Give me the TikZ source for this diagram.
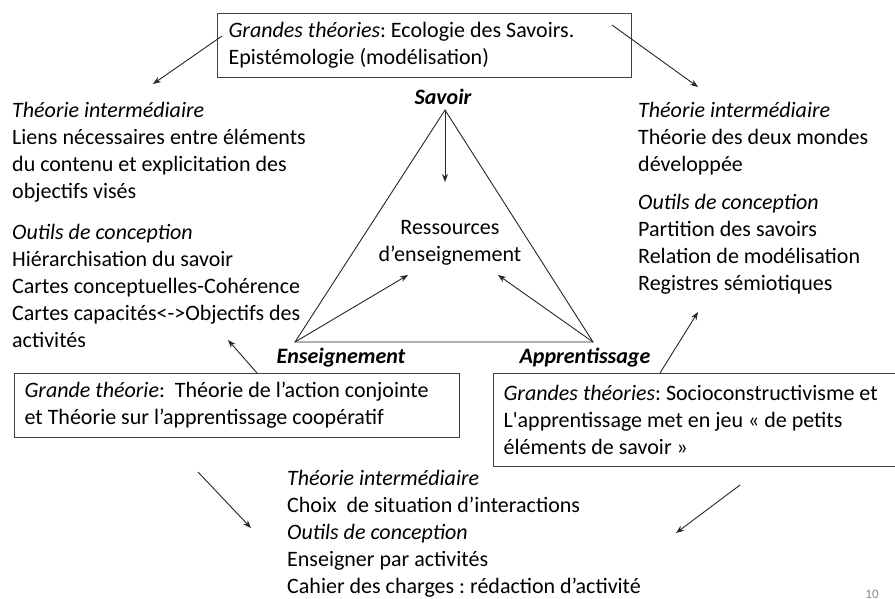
\documentclass[tikz,border=0pt]{standalone}
\usepackage{fontspec}
\setmainfont{Carlito}
\usepackage{tikz}
\usetikzlibrary{arrows.meta}
\frenchspacing

\begin{document}
\begin{tikzpicture}[x=1pt, y=-1pt, font=\fontsize{22}{27}\selectfont,
    box/.style = {draw=black!75, line width=1.2pt, anchor=north west, inner xsep=10pt, align=flush left},
    txt/.style = {anchor=base west, inner sep=0pt, align=left},
    corner/.style = {anchor=base, inner sep=0pt, font=\fontsize{22}{27}\selectfont\bfseries\itshape},
    arr/.style = {-{Stealth[length=8pt, width=6pt]}, line width=0.9pt, black!85}]

    \useasboundingbox (0,0) rectangle (895,598);
    \clip (0,0) rectangle (895,598);

    % Grand theories (boxes)
    \node[box, inner xsep=11pt, text width=392pt, minimum height=64pt] (top) at (217,13)
        {\emph{Grandes théories}: Ecologie des Savoirs.\\ Epistémologie (modélisation)};
    \node[box, text width=425pt, minimum height=64pt] (gl) at (14,373)
        {\emph{Grande théorie}:\ \ Théorie de l’action conjointe\\ et Théorie sur l’apprentissage coopératif};
    \node[box, text width=400pt, minimum height=93pt] (gr) at (493,373)
        {\emph{Grandes théories}: Socioconstructivisme et\\ L\textquotesingle apprentissage met en jeu « de petits\\ éléments de savoir »};

    % Left column (anchored on the last line)
    \node[txt] (lt) at (12,198) {\emph{Théorie intermédiaire}\\ Liens nécessaires entre éléments\\ du contenu et explicitation des\\ objectifs visés};
    \node[txt] (lo) at (12,347) {\emph{Outils de conception}\\ Hiérarchisation du savoir\\ Cartes conceptuelles-Cohérence\\ Cartes capacités<->Objectifs des\\ activités};

    % Right column
    \node[txt] (rt) at (638,171) {\emph{Théorie intermédiaire}\\ Théorie des deux mondes\\ développée};
    \node[txt] (ro) at (638,290) {\emph{Outils de conception}\\ Partition des savoirs\\ Relation de modélisation\\ Registres sémiotiques};

    % Bottom
    \node[txt] (bt) at (287,593) {\emph{Théorie intermédiaire}\\ Choix\ \ de situation d’interactions\\ \emph{Outils de conception}\\ Enseigner par activités\\ Cahier des charges : rédaction d’activité};

    % Triangle
    \coordinate (s) at (445,110);
    \coordinate (e) at (295,342);
    \coordinate (a) at (593,342);
    \draw[line width=0.9pt, black!85] (s) -- (e) -- (a) -- cycle;
    \node[corner] (sl) at (443,104) {Savoir};
    \node[corner] (el) at (341,363) {Enseignement};
    \node[corner] (al) at (585,363) {Apprentissage};
    \node[anchor=base, inner sep=0pt, align=center] (res) at (450,261) {Ressources\\ d’enseignement};

    \coordinate (r1) at (445,182);
    \coordinate (r2) at (408,275);
    \coordinate (r3) at (498,275);
    \draw[arr] (s) -- (r1);
    \draw[arr] (e) -- (r2);
    \draw[arr] (a) -- (r3);

    % Connectors between boxes and columns
    \coordinate (t1) at (222,36);  \coordinate (t2) at (153,84);
    \coordinate (t3) at (612,25);  \coordinate (t4) at (698,87);
    \coordinate (g1) at (257,373); \coordinate (g2) at (228,340);
    \coordinate (g3) at (660,373); \coordinate (g4) at (698,312);
    \coordinate (b1) at (198,472); \coordinate (b2) at (251,528);
    \coordinate (b3) at (740,485); \coordinate (b4) at (676,533);
    \draw[arr] (t1) -- (t2);
    \draw[arr] (t3) -- (t4);
    \draw[arr] (g1) -- (g2);
    \draw[arr] (g3) -- (g4);
    \draw[arr] (b1) -- (b2);
    \draw[arr] (b3) -- (b4);

    \node[font=\fontsize{13}{14}\selectfont, text=black!45] (pg) at (872,594) {10};
\end{tikzpicture}
\end{document}
